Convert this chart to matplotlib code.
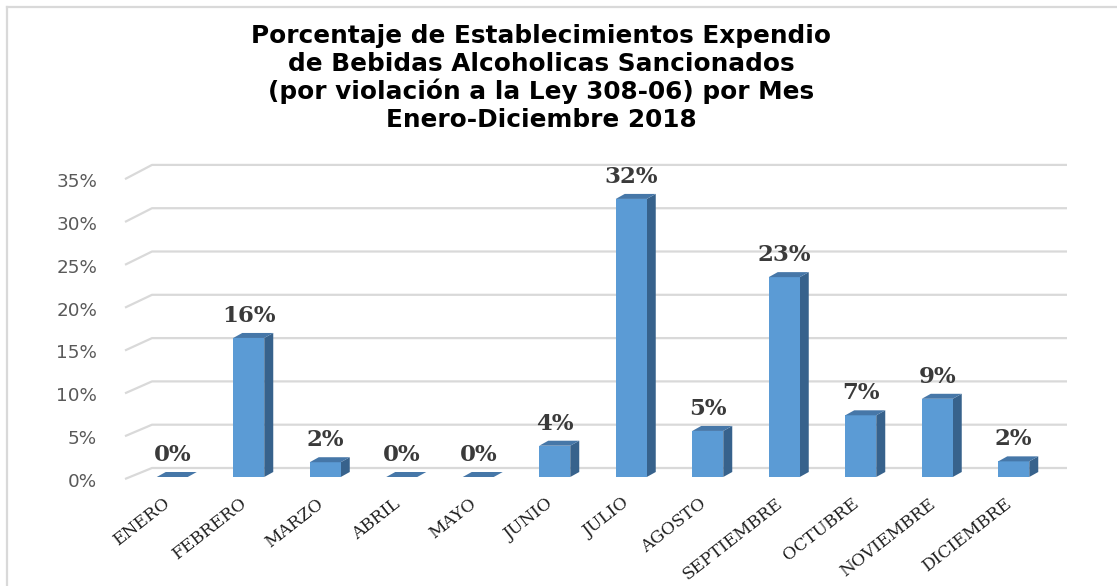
import matplotlib
matplotlib.use("Agg")
import matplotlib.pyplot as plt
from matplotlib.patches import Polygon
from matplotlib.lines import Line2D

# ---- data ----
months = ["ENERO", "FEBRERO", "MARZO", "ABRIL", "MAYO", "JUNIO", "JULIO",
          "AGOSTO", "SEPTIEMBRE", "OCTUBRE", "NOVIEMBRE", "DICIEMBRE"]
values = [0.0, 16.0, 1.7, 0.0, 0.0, 3.6, 32.0, 5.3, 23.0, 7.1, 9.0, 1.8]
yticks = [0, 5, 10, 15, 20, 25, 30, 35]
ytick_labels = [f"{t}%" for t in yticks]
title = ("Porcentaje de Establecimientos Expendio\n"
         "de Bebidas Alcoholicas Sancionados\n"
         "(por violación a la Ley 308-06) por Mes\n"
         "Enero-Diciembre 2018")

# ---- style ----
W, H, DPI = 1117, 586, 100
FRONT = "#5b9bd5"
SIDE = "#37628c"
TOP = "#4677a8"
GRID = "#d9d9d9"

fig = plt.figure(figsize=(W / DPI, H / DPI), dpi=DPI)
fig.patch.set_facecolor("white")

# axes: x -0.5..11.5 -> px 134..1052 ; y 0..36 -> px 477..164
ax = fig.add_axes([134 / W, 109 / H, 918 / W, 36 * 8.69 / H])
ax.set_xlim(-0.5, 11.5)
ax.set_ylim(0, 36)
ax.axis("off")

px_x = 918 / 12.0     # pixels per category
px_y = 8.69           # pixels per percent
DX = 9 / px_x         # depth in data x
DY = 5 / px_y         # depth in data y
BW = 31 / px_x        # bar width

# gridlines (back wall + left floor diagonal)
x_back_l = -0.5 + (152 - 134) / px_x
x_back_r = -0.5 + (1067 - 134) / px_x
x_front_l = -0.5 + (125 - 134) / px_x
for t, lab in zip(yticks, ytick_labels):
    yb = 1.036 + 0.9965 * t
    yf = -0.23 + 0.986 * t
    ax.plot([x_front_l, x_back_l, x_back_r], [yf, yb, yb], color=GRID,
            lw=1.6, solid_capstyle="butt", zorder=1, clip_on=False)
    ax.text(-0.5 + (97 - 134) / px_x, -0.575 + 0.986 * t, lab,
            ha="right", va="center", fontsize=13.2, color="#595959",
            family="DejaVu Sans")

# bars (pseudo 3D)
xs = list(range(len(months)))
ax.bar(xs, values, width=BW, color=FRONT, zorder=3, linewidth=0)
for x, v in zip(xs, values):
    r = x + BW / 2
    l = x - BW / 2
    side = Polygon([(r, 0), (r + DX, DY), (r + DX, v + DY), (r, v)],
                   closed=True, facecolor=SIDE, edgecolor="none", zorder=2.9)
    top = Polygon([(l, v), (r, v), (r + DX, v + DY), (l + DX, v + DY)],
                  closed=True, facecolor=TOP, edgecolor="none", zorder=3.1)
    ax.add_patch(side)
    ax.add_patch(top)
    ax.annotate(f"{v:.0f}%", (x, v), xytext=(0, 22), textcoords="offset pixels",
                ha="center", va="center", fontsize=16.5, fontweight="bold",
                family="DejaVu Serif", color="#3a3a3a", annotation_clip=False)
    ax.annotate(months[x], (x, 0), xytext=(-9, -18), textcoords="offset pixels",
                ha="right", va="top", rotation=38, rotation_mode="anchor",
                fontsize=12.3, family="DejaVu Serif", color="#1f1f1f",
                annotation_clip=False)

# title
fig.text(541 / W, 1 - 78 / H, title, ha="center", va="center",
         fontsize=17.8, fontweight="bold", family="DejaVu Sans",
         color="black", linespacing=1.17)

# chart border (top and left)
fig.add_artist(Line2D([7 / W, 1.0], [1 - 7 / H, 1 - 7 / H],
                      transform=fig.transFigure, color=GRID, lw=1.6))
fig.add_artist(Line2D([7 / W, 7 / W], [0, 1 - 7 / H],
                      transform=fig.transFigure, color=GRID, lw=1.6))

fig.savefig("out.png", dpi=DPI, facecolor="white")
